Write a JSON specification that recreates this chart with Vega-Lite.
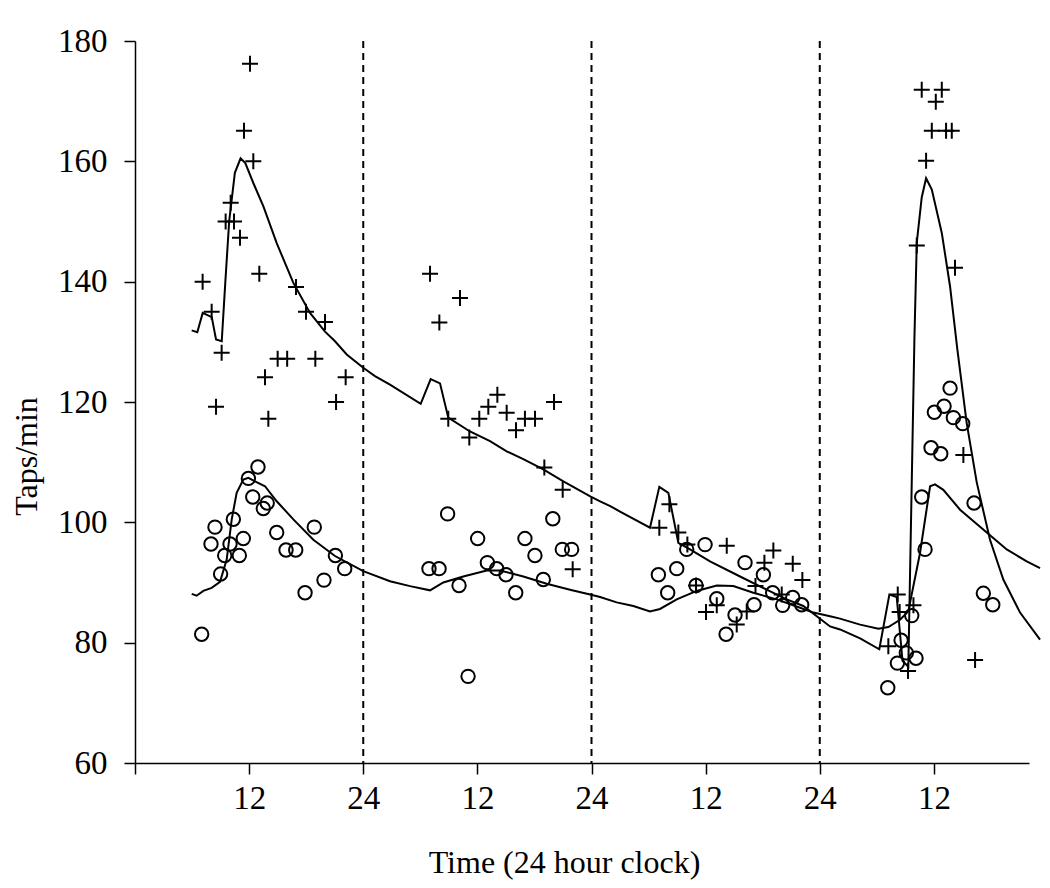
{
  "$schema": "https://vega.github.io/schema/vega-lite/v6.json",
  "width": 894,
  "height": 722,
  "autosize": "none",
  "padding": {"left": 135, "top": 41, "right": 21, "bottom": 125},
  "background": "white",
  "config": {
    "view": {"stroke": null},
    "font": "Liberation Serif",
    "axis": {
      "labelFont": "Liberation Serif",
      "titleFont": "Liberation Serif",
      "labelColor": "black",
      "titleColor": "black",
      "domainColor": "black",
      "tickColor": "black",
      "domainWidth": 1.5,
      "tickWidth": 1.5,
      "tickSize": 11,
      "grid": false,
      "labelFontSize": 33,
      "titleFontSize": 32,
      "titleFontWeight": "normal"
    }
  },
  "datasets": {
    "dashes": [{"hour": 24}, {"hour": 48}, {"hour": 72}],
    "lineA": [
      {"hour": 5.96, "value": 131.9}, {"hour": 6.55, "value": 131.6}, {"hour": 7.12, "value": 134.8}, {"hour": 8.07, "value": 134.1},
      {"hour": 8.52, "value": 130.4}, {"hour": 9.12, "value": 130.1}, {"hour": 9.5, "value": 140.0}, {"hour": 9.9, "value": 150.0},
      {"hour": 10.5, "value": 158.1}, {"hour": 11.1, "value": 160.5}, {"hour": 11.6, "value": 159.7}, {"hour": 12.44, "value": 156.4},
      {"hour": 13.5, "value": 152.5}, {"hour": 14.9, "value": 146.4}, {"hour": 16.65, "value": 139.8}, {"hour": 18.4, "value": 134.8},
      {"hour": 19.98, "value": 131.7}, {"hour": 21.03, "value": 130.1}, {"hour": 22.26, "value": 127.9}, {"hour": 24.0, "value": 125.7},
      {"hour": 25.23, "value": 124.3}, {"hour": 26.81, "value": 122.9}, {"hour": 30.04, "value": 119.7}, {"hour": 31.09, "value": 123.8},
      {"hour": 32.07, "value": 123.1}, {"hour": 32.94, "value": 117.4}, {"hour": 35.22, "value": 115.1}, {"hour": 37.33, "value": 113.5},
      {"hour": 39.08, "value": 111.8}, {"hour": 40.83, "value": 110.5}, {"hour": 42.93, "value": 108.8}, {"hour": 45.04, "value": 106.8},
      {"hour": 47.87, "value": 104.3}, {"hour": 48.9, "value": 103.5}, {"hour": 49.97, "value": 102.7}, {"hour": 51.0, "value": 101.8},
      {"hour": 54.15, "value": 99.1}, {"hour": 55.13, "value": 105.9}, {"hour": 56.08, "value": 104.9}, {"hour": 57.13, "value": 96.6},
      {"hour": 58.36, "value": 95.5}, {"hour": 60.46, "value": 93.5}, {"hour": 63.62, "value": 91.0}, {"hour": 66.42, "value": 88.8},
      {"hour": 68.53, "value": 87.2}, {"hour": 70.27, "value": 86.1}, {"hour": 73.08, "value": 82.7}, {"hour": 74.13, "value": 82.2},
      {"hour": 76.24, "value": 80.7}, {"hour": 78.26, "value": 78.9}, {"hour": 79.32, "value": 88.0}, {"hour": 80.09, "value": 87.6},
      {"hour": 80.7, "value": 77.0}, {"hour": 81.31, "value": 76.0}, {"hour": 81.95, "value": 130.4}, {"hour": 82.2, "value": 146.5},
      {"hour": 82.72, "value": 154.0}, {"hour": 83.18, "value": 157.2}, {"hour": 83.78, "value": 155.3}, {"hour": 84.83, "value": 148.1},
      {"hour": 85.7, "value": 139.2}, {"hour": 86.47, "value": 128.7}, {"hour": 87.45, "value": 116.5}, {"hour": 88.51, "value": 106.6},
      {"hour": 89.9, "value": 97.1}, {"hour": 91.3, "value": 90.5}, {"hour": 93.06, "value": 85.0}, {"hour": 95.16, "value": 80.5}
    ],
    "lineB": [
      {"hour": 5.96, "value": 88.1}, {"hour": 6.48, "value": 87.8}, {"hour": 7.18, "value": 88.6}, {"hour": 8.06, "value": 89.1},
      {"hour": 8.94, "value": 90.1}, {"hour": 9.64, "value": 93.8}, {"hour": 10.17, "value": 100.5}, {"hour": 10.69, "value": 104.9},
      {"hour": 11.39, "value": 107.1}, {"hour": 11.92, "value": 107.4}, {"hour": 12.62, "value": 106.8}, {"hour": 13.67, "value": 106.0},
      {"hour": 14.9, "value": 103.5}, {"hour": 16.65, "value": 100.5}, {"hour": 18.75, "value": 97.1}, {"hour": 21.03, "value": 94.4},
      {"hour": 24.0, "value": 91.9}, {"hour": 26.81, "value": 90.2}, {"hour": 28.92, "value": 89.4}, {"hour": 31.02, "value": 88.7},
      {"hour": 32.42, "value": 90.0}, {"hour": 34.52, "value": 91.0}, {"hour": 36.98, "value": 92.0}, {"hour": 38.38, "value": 92.0},
      {"hour": 40.83, "value": 91.0}, {"hour": 43.29, "value": 89.8}, {"hour": 45.74, "value": 88.8}, {"hour": 47.85, "value": 88.0},
      {"hour": 48.9, "value": 87.6}, {"hour": 50.65, "value": 86.7}, {"hour": 52.4, "value": 86.1}, {"hour": 54.15, "value": 85.2},
      {"hour": 55.2, "value": 85.6}, {"hour": 56.96, "value": 87.2}, {"hour": 59.06, "value": 88.6}, {"hour": 61.17, "value": 89.5},
      {"hour": 62.91, "value": 89.4}, {"hour": 65.02, "value": 88.3}, {"hour": 67.47, "value": 87.2}, {"hour": 69.93, "value": 85.8},
      {"hour": 71.33, "value": 85.0}, {"hour": 73.08, "value": 84.4}, {"hour": 74.13, "value": 84.0}, {"hour": 76.24, "value": 83.0},
      {"hour": 78.16, "value": 82.3}, {"hour": 79.21, "value": 82.6}, {"hour": 80.44, "value": 83.8}, {"hour": 81.31, "value": 85.2},
      {"hour": 82.54, "value": 94.9}, {"hour": 83.6, "value": 106.0}, {"hour": 84.12, "value": 106.3}, {"hour": 84.99, "value": 105.4},
      {"hour": 86.75, "value": 102.1}, {"hour": 89.56, "value": 98.3}, {"hour": 91.66, "value": 95.5}, {"hour": 93.76, "value": 93.5},
      {"hour": 95.16, "value": 92.4}
    ],
    "circles": [
      {"hour": 7.01, "value": 81.4}, {"hour": 7.99, "value": 96.4}, {"hour": 8.41, "value": 99.2}, {"hour": 9.0, "value": 91.4},
      {"hour": 9.43, "value": 94.5}, {"hour": 9.99, "value": 96.4}, {"hour": 10.34, "value": 100.5}, {"hour": 10.97, "value": 94.5},
      {"hour": 11.39, "value": 97.3}, {"hour": 11.92, "value": 107.3}, {"hour": 12.38, "value": 104.2}, {"hour": 12.93, "value": 109.2},
      {"hour": 13.49, "value": 102.3}, {"hour": 13.9, "value": 103.2}, {"hour": 14.9, "value": 98.3}, {"hour": 15.88, "value": 95.4},
      {"hour": 16.9, "value": 95.4}, {"hour": 17.88, "value": 88.3}, {"hour": 18.85, "value": 99.2}, {"hour": 19.87, "value": 90.4},
      {"hour": 21.07, "value": 94.5}, {"hour": 22.05, "value": 92.3},
      {"hour": 30.91, "value": 92.3}, {"hour": 31.97, "value": 92.3}, {"hour": 32.87, "value": 101.4}, {"hour": 34.07, "value": 89.5},
      {"hour": 35.02, "value": 74.4}, {"hour": 36.03, "value": 97.3}, {"hour": 37.05, "value": 93.3}, {"hour": 38.03, "value": 92.3},
      {"hour": 39.01, "value": 91.3}, {"hour": 40.03, "value": 88.3}, {"hour": 41.0, "value": 97.3}, {"hour": 42.05, "value": 94.5},
      {"hour": 42.93, "value": 90.5}, {"hour": 43.93, "value": 100.6}, {"hour": 44.93, "value": 95.5}, {"hour": 45.91, "value": 95.5},
      {"hour": 55.03, "value": 91.3}, {"hour": 56.01, "value": 88.3}, {"hour": 56.96, "value": 92.3}, {"hour": 58.01, "value": 95.5},
      {"hour": 58.99, "value": 89.5}, {"hour": 59.94, "value": 96.3}, {"hour": 61.17, "value": 87.3}, {"hour": 62.15, "value": 81.4},
      {"hour": 63.09, "value": 84.6}, {"hour": 64.14, "value": 93.3}, {"hour": 65.09, "value": 86.3}, {"hour": 66.07, "value": 91.3},
      {"hour": 67.05, "value": 88.3}, {"hour": 68.1, "value": 86.2}, {"hour": 69.16, "value": 87.5}, {"hour": 70.1, "value": 86.3},
      {"hour": 79.15, "value": 72.5}, {"hour": 80.16, "value": 76.6}, {"hour": 80.55, "value": 80.4}, {"hour": 81.1, "value": 78.3},
      {"hour": 81.67, "value": 84.5}, {"hour": 82.12, "value": 77.4}, {"hour": 82.72, "value": 104.2}, {"hour": 83.07, "value": 95.5},
      {"hour": 83.7, "value": 112.4}, {"hour": 84.05, "value": 118.3}, {"hour": 84.72, "value": 111.4}, {"hour": 85.07, "value": 119.3},
      {"hour": 85.7, "value": 122.3}, {"hour": 86.05, "value": 117.4}, {"hour": 87.03, "value": 116.4}, {"hour": 88.22, "value": 103.2},
      {"hour": 89.2, "value": 88.2}, {"hour": 90.19, "value": 86.3}
    ],
    "plus": [
      {"hour": 7.11, "value": 140.0}, {"hour": 8.06, "value": 135.0}, {"hour": 8.52, "value": 119.2}, {"hour": 9.11, "value": 128.2},
      {"hour": 9.53, "value": 150.0}, {"hour": 10.06, "value": 153.1}, {"hour": 10.41, "value": 150.0}, {"hour": 11.04, "value": 147.3},
      {"hour": 11.46, "value": 165.1}, {"hour": 12.09, "value": 176.2}, {"hour": 12.44, "value": 160.0}, {"hour": 13.07, "value": 141.3},
      {"hour": 13.67, "value": 124.1}, {"hour": 14.02, "value": 117.2}, {"hour": 15.0, "value": 127.2}, {"hour": 16.0, "value": 127.2},
      {"hour": 16.93, "value": 139.1}, {"hour": 17.98, "value": 135.0}, {"hour": 18.96, "value": 127.2}, {"hour": 19.98, "value": 133.3},
      {"hour": 21.14, "value": 120.0}, {"hour": 22.15, "value": 124.1},
      {"hour": 31.02, "value": 141.3}, {"hour": 32.0, "value": 133.2}, {"hour": 32.94, "value": 117.2}, {"hour": 34.17, "value": 137.3},
      {"hour": 35.15, "value": 114.1}, {"hour": 36.2, "value": 117.2}, {"hour": 37.15, "value": 119.2}, {"hour": 38.1, "value": 121.2},
      {"hour": 39.08, "value": 118.2}, {"hour": 40.06, "value": 115.3}, {"hour": 41.0, "value": 117.2}, {"hour": 42.06, "value": 117.2},
      {"hour": 43.04, "value": 109.1}, {"hour": 44.06, "value": 120.0}, {"hour": 44.97, "value": 105.4}, {"hour": 46.02, "value": 92.2},
      {"hour": 55.13, "value": 99.1}, {"hour": 56.19, "value": 103.0}, {"hour": 57.13, "value": 98.3}, {"hour": 58.08, "value": 96.3},
      {"hour": 58.99, "value": 89.5}, {"hour": 60.04, "value": 85.1}, {"hour": 61.17, "value": 86.2}, {"hour": 62.22, "value": 96.1},
      {"hour": 63.27, "value": 83.0}, {"hour": 64.32, "value": 85.2}, {"hour": 65.24, "value": 89.4}, {"hour": 66.18, "value": 93.3},
      {"hour": 67.12, "value": 95.3}, {"hour": 68.0, "value": 88.0}, {"hour": 69.16, "value": 93.1}, {"hour": 70.17, "value": 90.4},
      {"hour": 79.21, "value": 79.4}, {"hour": 80.2, "value": 88.0}, {"hour": 80.4, "value": 85.1}, {"hour": 81.28, "value": 75.3},
      {"hour": 81.85, "value": 86.2}, {"hour": 82.2, "value": 146.0}, {"hour": 82.72, "value": 171.9}, {"hour": 83.18, "value": 160.1},
      {"hour": 83.78, "value": 165.1}, {"hour": 84.2, "value": 169.9}, {"hour": 84.83, "value": 171.9}, {"hour": 85.28, "value": 165.1},
      {"hour": 85.88, "value": 165.1}, {"hour": 86.22, "value": 142.3}, {"hour": 87.1, "value": 111.2}, {"hour": 88.33, "value": 77.1}
    ]
  },
  "encoding": {
    "x": {
      "field": "hour",
      "type": "quantitative",
      "scale": {"domain": [0, 94], "nice": false, "zero": false},
      "axis": {
        "title": "Time (24 hour clock)",
        "values": [0, 12, 24, 36, 48, 60, 72, 84],
        "labelExpr": "datum.value == 0 ? '' : (datum.value % 24 == 0 ? '24' : '12')",
        "labelPadding": 8,
        "titleX": 429,
        "titleY": 84,
        "titleBaseline": "top"
      }
    },
    "y": {
      "field": "value",
      "type": "quantitative",
      "scale": {"domain": [60, 180], "nice": false, "zero": false},
      "axis": {
        "title": "Taps/min",
        "values": [60, 80, 100, 120, 140, 160, 180],
        "labelPadding": 17,
        "titleX": -99,
        "titleY": 415,
        "titleBaseline": "alphabetic"
      }
    }
  },
  "layer": [
    {
      "data": {"name": "dashes"},
      "mark": {"type": "rule", "color": "black", "strokeWidth": 2, "strokeDash": [7, 5]},
      "encoding": {"x": {"field": "hour", "type": "quantitative"}, "y": null}
    },
    {
      "data": {"name": "lineA"},
      "mark": {"type": "line", "color": "black", "strokeWidth": 2, "clip": false}
    },
    {
      "data": {"name": "lineB"},
      "mark": {"type": "line", "color": "black", "strokeWidth": 2, "clip": false}
    },
    {
      "data": {"name": "circles"},
      "mark": {"type": "point", "shape": "circle", "filled": false, "size": 180, "stroke": "black", "strokeWidth": 2, "opacity": 1}
    },
    {
      "data": {"name": "plus"},
      "mark": {"type": "point", "shape": "M-1,0H1M0,-1V1", "filled": false, "size": 256, "stroke": "black", "strokeWidth": 2, "opacity": 1}
    }
  ]
}
